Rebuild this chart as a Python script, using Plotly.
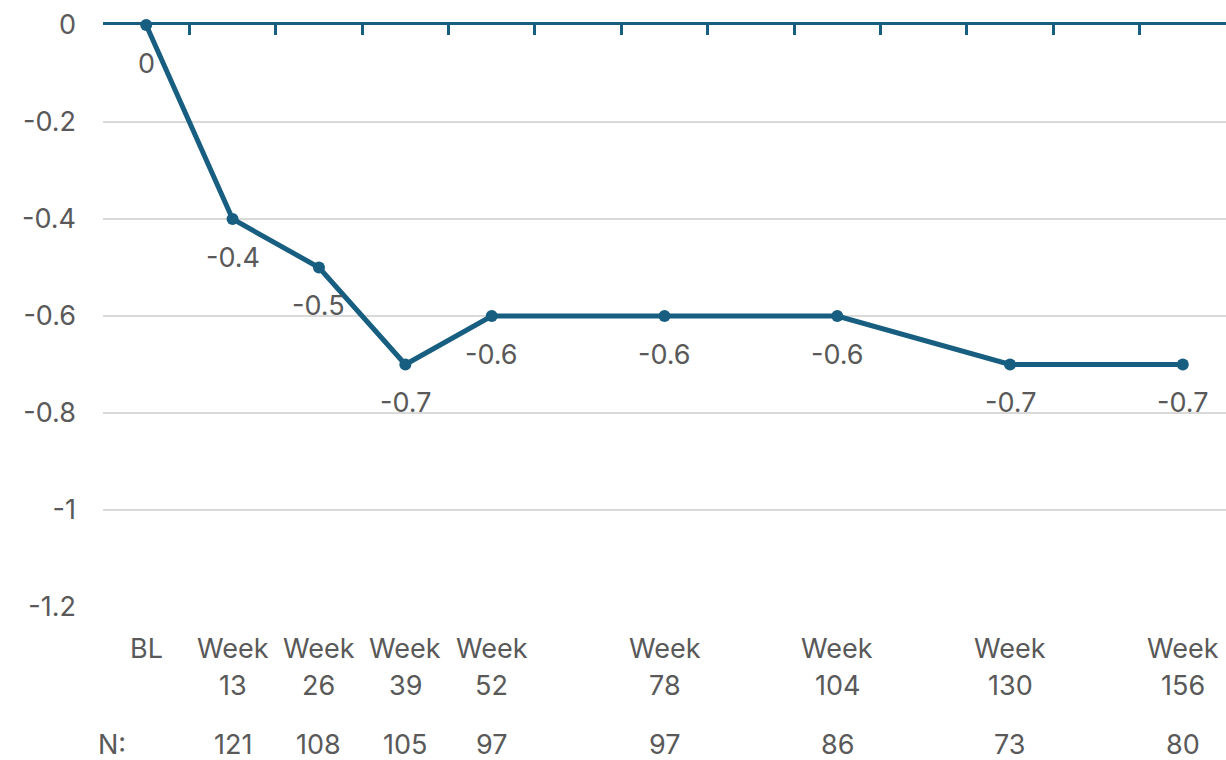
import plotly.graph_objects as go

# Visit schedule (weeks from baseline) and labels (two text rows)
weeks = [0, 13, 26, 39, 52, 78, 104, 130, 156]
visit_row1 = ["BL", "Week", "Week", "Week", "Week", "Week", "Week", "Week", "Week"]
visit_row2 = ["", "13", "26", "39", "52", "78", "104", "130", "156"]

# Mean change from baseline
mean_change = [0, -0.4, -0.5, -0.7, -0.6, -0.6, -0.6, -0.7, -0.7]

# Number of patients at each visit (none shown at baseline)
n_patients = [None, 121, 108, 105, 97, 97, 86, 73, 80]

# y-axis ticks
y_ticks = [0, -0.2, -0.4, -0.6, -0.8, -1, -1.2]

LINE = "#175e80"
TEXT = "#595959"
FONT = "Inter"
FS = 27

step = 13
x_range = [-step / 2, 156 + step / 2]
boundaries = [x_range[0] + step * k for k in range(14)]

fig = go.Figure()
fig.add_trace(go.Scatter(
    x=weeks, y=mean_change, mode="lines+markers",
    line=dict(color=LINE, width=5),
    marker=dict(color=LINE, size=12),
    cliponaxis=False, hoverinfo="skip", showlegend=False,
))

txt = dict(family=FONT, size=FS, color=TEXT)

# Data labels under each point
for w, v in zip(weeks, mean_change):
    fig.add_annotation(x=w, y=v, xref="x", yref="y", text=f"{v:g}",
                       showarrow=False, yshift=-38, font=txt)

# Visit labels below the plot area
ROW1_Y, ROW2_Y, N_Y = -0.0705, -0.1357, -0.2354
for w, r1, r2 in zip(weeks, visit_row1, visit_row2):
    fig.add_annotation(x=w, y=ROW1_Y, xref="x", yref="paper", text=r1,
                       showarrow=False, yanchor="middle", font=txt)
    if r2:
        fig.add_annotation(x=w, y=ROW2_Y, xref="x", yref="paper", text=r2,
                           showarrow=False, yanchor="middle", font=txt)

# N row
fig.add_annotation(x=-5.1, y=N_Y, xref="x", yref="paper", text="N:",
                   showarrow=False, yanchor="middle", font=txt)
for w, n in zip(weeks, n_patients):
    if n is None:
        continue
    fig.add_annotation(x=w, y=N_Y, xref="x", yref="paper", text=str(n),
                       showarrow=False, yanchor="middle", font=txt)

fig.update_layout(
    width=1226, height=760,
    margin=dict(l=103, r=0, t=25, b=153),
    paper_bgcolor="white", plot_bgcolor="white",
    font=txt,
    # top axis line at y = 0 with ticks between visits
    xaxis=dict(range=x_range, side="top", tickmode="array",
               tickvals=boundaries, showticklabels=False, ticks="inside",
               ticklen=10, tickwidth=3, tickcolor=LINE, showline=True,
               linecolor=LINE, linewidth=3, showgrid=False, zeroline=False,
               layer="below traces"),
    yaxis=dict(range=[-1.2, 0], tickmode="array", tickvals=y_ticks,
               ticktext=[f"{t:g}" for t in y_ticks], showgrid=True,
               gridcolor="#d9d9d9", gridwidth=1.5, zeroline=False,
               showline=False, ticks="", ticklabelstandoff=26,
               tickfont=txt),
)

fig.write_html("out.html")
